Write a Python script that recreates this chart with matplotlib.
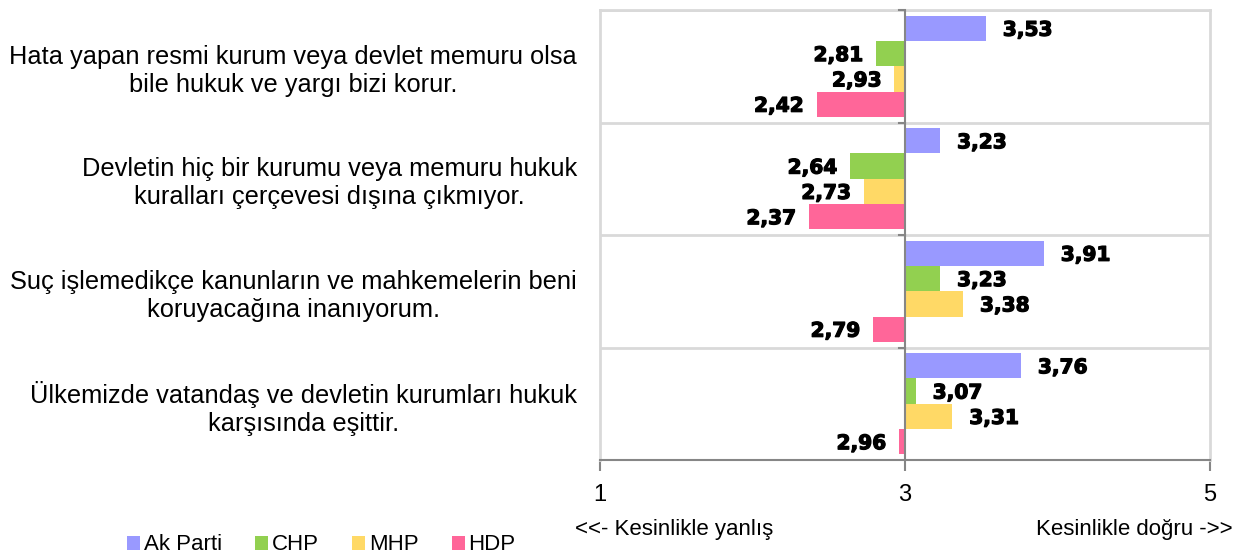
import numpy as np
import matplotlib.pyplot as plt
import matplotlib.patheffects as pe
from matplotlib.patches import Patch

categories = [
    "Hata yapan resmi kurum veya devlet memuru olsa\nbile hukuk ve yargı bizi korur.",
    "Devletin hiç bir kurumu veya memuru hukuk\nkuralları çerçevesi dışına çıkmıyor.",
    "Suç işlemedikçe kanunların ve mahkemelerin beni\nkoruyacağına inanıyorum.",
    "Ülkemizde vatandaş ve devletin kurumları hukuk\nkarşısında eşittir.",
]
parties = ["Ak Parti", "CHP", "MHP", "HDP"]
ak_parti = [3.53, 3.23, 3.91, 3.76]
chp = [2.81, 2.64, 3.23, 3.07]
mhp = [2.93, 2.73, 3.38, 3.31]
hdp = [2.42, 2.37, 2.79, 2.96]
colors = ["#9999FF", "#92D050", "#FFD966", "#FF6699"]
xticks = [1, 3, 5]

series = [ak_parti, chp, mhp, hdp]
base = 3

W, H = 1243, 557
fig = plt.figure(figsize=(W / 100, H / 100), dpi=100)
ax = fig.add_axes([600 / W, 1 - 460 / H, 610 / W, 450 / H])

font = "Liberation Sans"
y = np.arange(len(categories))
h = 0.225
offsets = (np.arange(len(series)) - 1.5) * h
heavy = [pe.withStroke(linewidth=0.9, foreground="black")]

for vals, off, col, name in zip(series, offsets, colors, parties):
    vals = np.array(vals)
    ax.barh(y + off, vals - base, left=base, height=h, color=col,
            edgecolor="none", zorder=2, label=name)
    for yi, v in zip(y + off, vals):
        txt = f"{v:.2f}".replace(".", ",")
        if v >= base:
            dx, ha = 17, "left"
        else:
            dx, ha = -13, "right"
        ax.annotate(txt, (v, yi), xytext=(dx, -2), textcoords="offset pixels",
                    ha=ha, va="center", fontsize=14.5, fontweight="bold",
                    family="DejaVu Sans", path_effects=heavy)

ax.set_xlim(1, 5)
ax.set_ylim(len(categories) - 0.5, -0.5)

bounds = np.arange(len(categories) + 1) - 0.5
ax.set_yticks(y)
ax.set_yticklabels(categories, fontsize=18.3, family=font, linespacing=1.2)
for t in ax.get_yticklabels():
    t.set_multialignment("center")
ax.set_yticks(bounds, minor=True)
ax.tick_params(axis="y", which="both", length=0, pad=16.5)
ax.grid(axis="y", which="minor", color="#D9D9D9", lw=2, zorder=0)

ax.set_xticks(xticks)
ax.set_xticklabels([str(t) for t in xticks], fontsize=17, family=font)
ax.tick_params(axis="x", length=8, width=1.5, color="#868686", pad=9.5)

for s in ["top", "left", "right"]:
    ax.spines[s].set_color("#D9D9D9")
    ax.spines[s].set_linewidth(2)
ax.spines["bottom"].set_color("#868686")
ax.spines["bottom"].set_linewidth(1.5)

ax.axvline(base, color="#868686", lw=1.5, zorder=3)
tick_w = 6 / 152.5
for b in bounds[:-1]:
    ax.plot([base - tick_w, base], [b, b], color="#868686", lw=1.5,
            zorder=3, clip_on=False)

fig.text(674 / W, 1 - 530 / H, "<<- Kesinlikle yanlış", ha="center", va="center",
         fontsize=16, family=font)
fig.text(1233 / W, 1 - 529 / H, "Kesinlikle doğru ->>", ha="right", va="center",
         fontsize=16, family=font)

handles = [Patch(facecolor=c, edgecolor="none") for c in colors]
fig.legend(handles, parties, loc="center left", bbox_to_anchor=(127 / W, 1 - 545 / H),
           ncol=4, frameon=False, prop={"family": font, "size": 16},
           handlelength=0.6, handleheight=0.6, handletextpad=0.15,
           columnspacing=1.5, borderpad=0, borderaxespad=0)

fig.savefig("out.png", dpi=100)
